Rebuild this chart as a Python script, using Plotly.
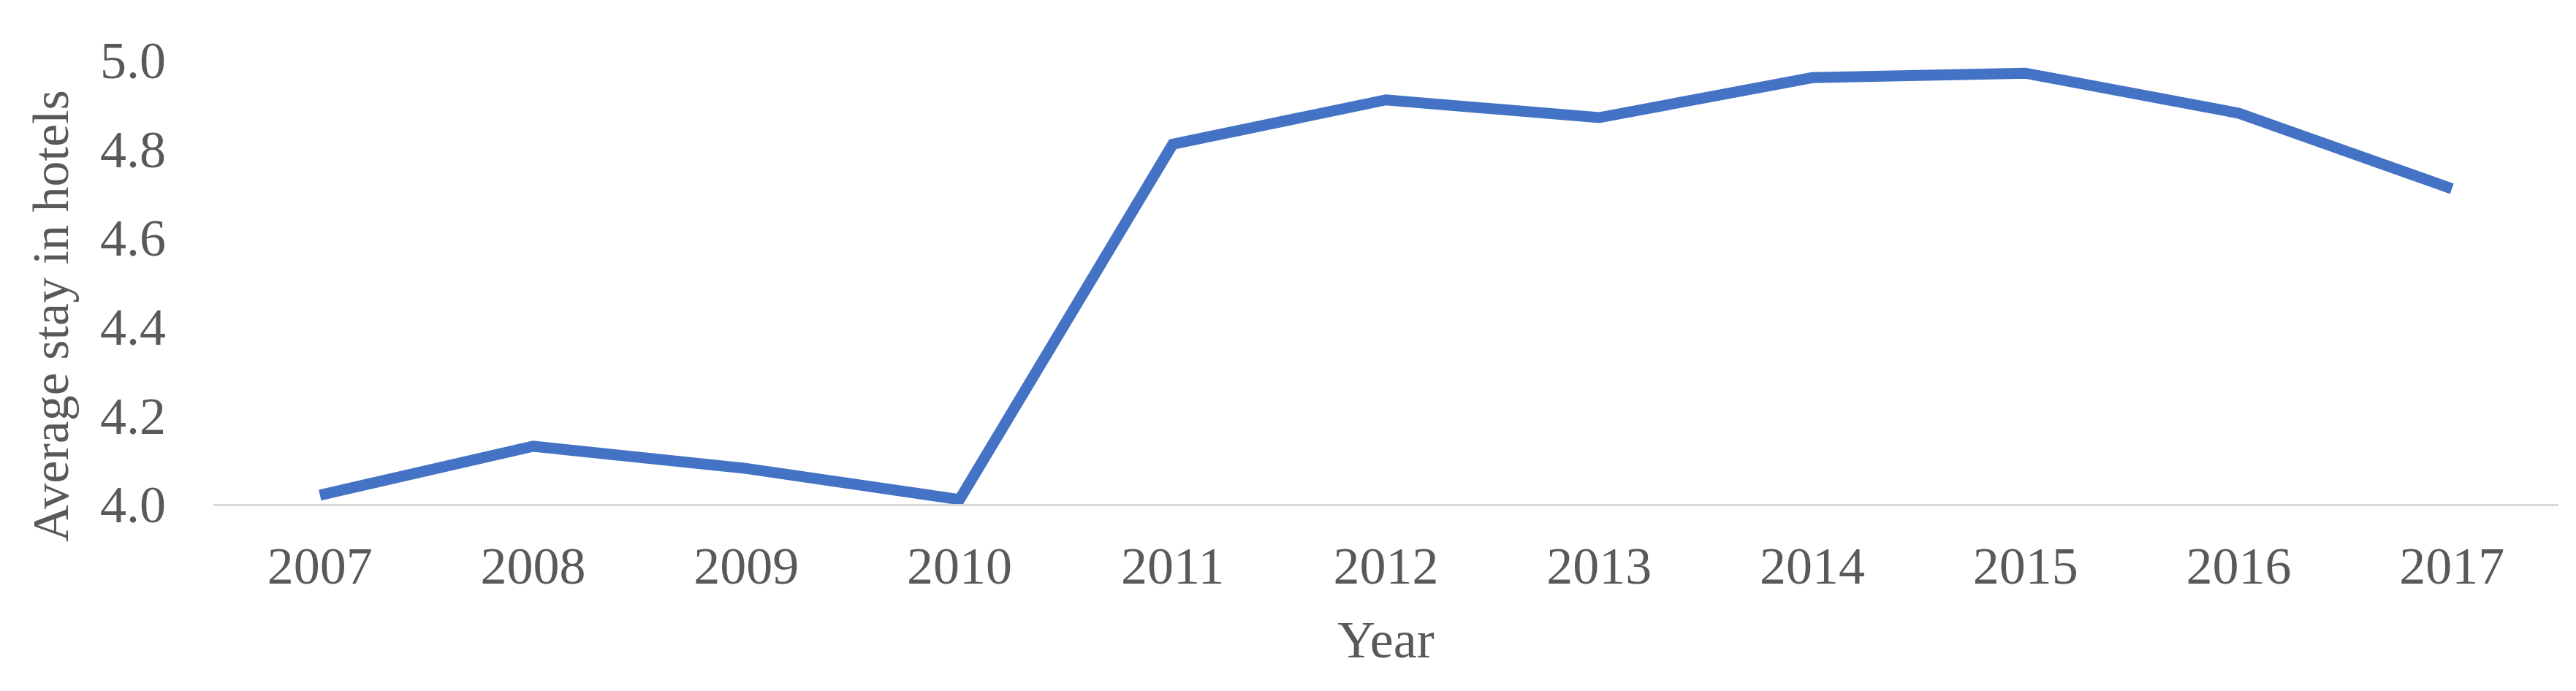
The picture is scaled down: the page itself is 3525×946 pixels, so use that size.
import plotly.graph_objects as go

years = ["2007", "2008", "2009", "2010", "2011", "2012", "2013", "2014", "2015", "2016", "2017"]
avg_stay = [4.02, 4.13, 4.08, 4.01, 4.81, 4.91, 4.87, 4.96, 4.97, 4.88, 4.71]
y_ticks = [4.0, 4.2, 4.4, 4.6, 4.8, 5.0]
y_title = "Average stay in hotels"
x_title = "Year"

FONT = "Liberation Serif"
TXT = "#595959"

fig = go.Figure()
fig.add_trace(go.Scatter(
    x=years, y=avg_stay, mode="lines",
    line=dict(color="#4472C4", width=15, shape="linear"),
    cliponaxis=False, showlegend=False,
))

W, H = 3525, 946
L, R, T, B = 284, 32, 74, 264
pw, ph = W - L - R, H - T - B

fig.update_layout(
    width=W, height=H,
    margin=dict(l=L, r=R, t=T, b=B),
    paper_bgcolor="white", plot_bgcolor="white",
    font=dict(family=FONT, color=TXT, size=72),
    xaxis=dict(
        type="category", range=[-0.5, len(years) - 0.5],
        showgrid=False, zeroline=False,
        showline=True, linecolor="#D9D9D9", linewidth=3,
        ticks="", tickfont=dict(family=FONT, size=72, color=TXT),
        ticklabelstandoff=20,
    ),
    yaxis=dict(
        range=[4.0, 5.0], tickvals=y_ticks, ticktext=[f"{v:.1f}" for v in y_ticks],
        showgrid=False, zeroline=False, showline=False,
        ticks="", tickfont=dict(family=FONT, size=72, color=TXT),
        ticklabelstandoff=64,
    ),
    annotations=[
        dict(text=y_title, xref="paper", yref="paper",
             x=(62 - L) / pw, y=(H - B - 424) / ph, xanchor="center", yanchor="middle",
             textangle=-90, showarrow=False, font=dict(family=FONT, size=70, color=TXT)),
        dict(text=x_title, xref="paper", yref="paper",
             x=0.5, y=(H - B - 868) / ph, xanchor="center", yanchor="middle",
             showarrow=False, font=dict(family=FONT, size=72, color=TXT)),
    ],
)

fig.write_html("out.html")
